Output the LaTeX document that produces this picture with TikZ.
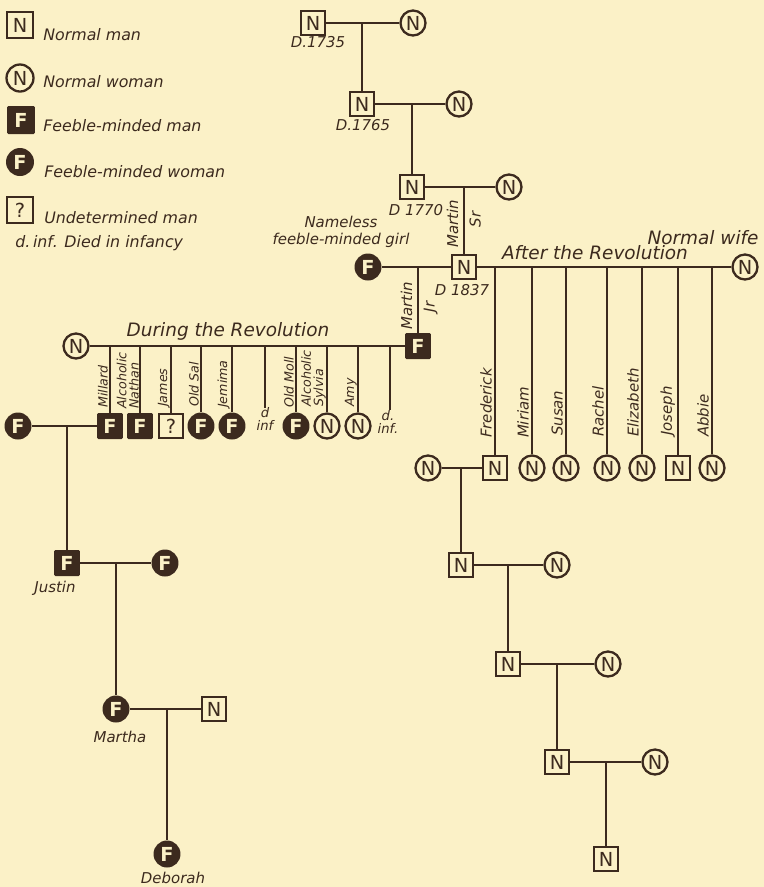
\documentclass[tikz,border=0pt]{standalone}
\usepackage{fontspec}
\setsansfont{DejaVu Sans}
\usepackage{xcolor}
\usepackage{tikz}
\usetikzlibrary{positioning,calc}
\definecolor{paper}{RGB}{251,241,199}
\definecolor{ink}{RGB}{60,42,30}
\newcommand{\symfont}{\sffamily\fontsize{11}{11}\selectfont}
\newcommand{\namefont}{\sffamily\itshape\fontsize{8.5}{8}\selectfont}

\begin{document}
\begin{tikzpicture}[x=0.02cm,y=-0.02cm,
    nman/.style={rectangle,draw=ink,line width=1.1pt,minimum size=0.48cm,inner sep=0pt,text=ink,font=\symfont},
    qman/.style={nman},
    fman/.style={rectangle,fill=ink,rounded corners=0.8pt,minimum size=0.52cm,inner sep=0pt,text=paper,font=\symfont\bfseries},
    nwoman/.style={circle,draw=ink,line width=1.3pt,minimum size=0.5cm,inner sep=0pt,text=ink,font=\symfont},
    fwoman/.style={circle,fill=ink,minimum size=0.54cm,inner sep=0pt,text=paper,font=\symfont\bfseries},
    kin/.style={draw=ink,line width=1pt},
    keytxt/.style={anchor=west,text=ink,inner sep=0pt,font=\sffamily\itshape\fontsize{9}{10}\selectfont},
    dated/.style={text=ink,inner sep=0pt,font=\sffamily\itshape\fontsize{8.5}{9}\selectfont},
    head/.style={text=ink,inner sep=0pt,font=\sffamily\itshape\fontsize{10.5}{12}\selectfont},
    namel/.style={rotate=90,anchor=south west,align=left,text=ink,inner sep=1pt,font=\namefont},
    namer/.style={rotate=90,anchor=north west,align=left,text=ink,inner sep=1pt,font=\namefont},
    namesm/.style={namel,inner sep=0.5pt,font=\sffamily\itshape\fontsize{7.2}{7}\selectfont},
    dinf/.style={align=center,text=ink,inner sep=0pt,font=\sffamily\itshape\fontsize{7.5}{7.5}\selectfont}]

  \useasboundingbox (0,0) rectangle (764,887);
  \fill[paper] (0,0) rectangle (764,887);

  % Key
  \node[nman,minimum size=0.52cm] (keynm) at (20,25) {N};
  \node[keytxt] (keynmt) at (43,35) {Normal man};
  \node[nwoman,minimum size=0.54cm] (keynw) at (20,78) {N};
  \node[keytxt] (keynwt) at (43,82) {Normal woman};
  \node[fman,minimum size=0.56cm] (keyfm) at (21,120) {F};
  \node[keytxt] (keyfmt) at (43,126) {Feeble-minded man};
  \node[fwoman,minimum size=0.56cm] (keyfw) at (20,162) {F};
  \node[keytxt] (keyfwt) at (44,172) {Feeble-minded woman};
  \node[qman,minimum size=0.52cm] (keyqm) at (20,210) {?};
  \node[keytxt] (keyqmt) at (44,218) {Undetermined man};
  \node[keytxt] (keyinf) at (15,243) {d.\,inf. Died in infancy};

  % Early generations
  \node[nman] (gen1) at (313,23) {N};
  \node[nwoman] (gen1w) at (413,23) {N};
  \node[nman] (gen2) at (362,104) {N};
  \node[nwoman] (gen2w) at (459,104) {N};
  \node[nman] (gen3) at (412,187) {N};
  \node[nwoman] (gen3w) at (509,187) {N};
  \node[dated] (d1735) at (318,42) {D.1735};
  \node[dated] (d1765) at (363,125) {D.1765};
  \node[dated] (d1770) at (416,210) {D 1770};

  \draw[kin] (gen1) -- (gen1w);
  \draw[kin] (gen2.north |- gen1) -- (gen2.north);
  \draw[kin] (gen2) -- (gen2w);
  \draw[kin] (gen3.north |- gen2) -- (gen3.north);
  \draw[kin] (gen3) -- (gen3w);

  % Martin Sr and his two unions
  \node[nman] (msr) at (464,267) {N};
  \node[dated] (d1837) at (462,290) {D 1837};
  \node[fwoman] (girl) at (368,267) {F};
  \node[nwoman] (wife) at (745,267) {N};
  \draw[kin] (msr.north |- gen3) -- (msr.north)
    node[namel] (msrl) at (461,250) {Martin}
    node[namer] (msrr) at (467,230) {Sr};
  \draw[kin] (girl) -- (msr);
  \draw[kin] (msr) -- (wife);
  \node[text=ink,inner sep=0pt,align=center,font=\sffamily\itshape\fontsize{8.5}{10}\selectfont]
    (girlt) at (341,232) {Nameless\\feeble-minded girl};
  \node[head] (wifet) at (703,238) {Normal wife};
  \node[head] (after) at (595,253) {After the Revolution};

  % Martin Jr
  \node[fman] (mjr) at (418,346) {F};
  \node[nwoman] (mjrw) at (76,346) {N};
  \draw[kin] (mjr.north |- msr) -- (mjr.north)
    node[namel] (mjrl) at (415,332) {Martin}
    node[namer] (mjrr) at (421,315) {Jr};
  \draw[kin] (mjrw) -- (mjr);
  \node[head] (during) at (228,331) {During the Revolution};

  % Children during the Revolution
  \node[fman] (millard) at (110,426) {F};
  \node[fman] (nathan) at (140,426) {F};
  \node[qman] (james) at (171,426) {?};
  \node[fwoman] (oldsal) at (201,426) {F};
  \node[fwoman] (jemima) at (232,426) {F};
  \coordinate (infa) at (265,408);
  \node[fwoman] (oldmoll) at (296,426) {F};
  \node[nwoman] (sylvia) at (327,426) {N};
  \node[nwoman] (amy) at (358,426) {N};
  \coordinate (infb) at (390,410);
  \foreach \k in {millard,nathan,james,oldsal,jemima,infa,oldmoll,sylvia,amy,infb}
    \draw[kin,line width=0.9pt] (\k.north |- mjr) -- (\k.north);
  \node[namesm] at (109,409) {Millard};
  \node[namesm] at (140,410) {Alcoholic\\Nathan};
  \node[namesm] at (171,408) {James};
  \node[namesm] at (200,408) {Old Sal};
  \node[namesm] at (231,409) {Jemima};
  \node[namesm] at (295,409) {Old Moll};
  \node[namesm] at (327,408) {Alcoholic\\Sylvia};
  \node[namesm] at (358,408) {Amy};
  \node[dinf] (infat) at (265,419) {d\\inf};
  \node[dinf] (infbt) at (388,422) {d.\\inf.};

  % Millard's line
  \node[fwoman] (millw) at (18,426) {F};
  \node[fman] (justin) at (67,563) {F};
  \node[fwoman] (justinw) at (165,563) {F};
  \node[fwoman] (martha) at (116,709) {F};
  \node[nman] (marthah) at (214,709) {N};
  \node[fwoman] (deborah) at (167,854) {F};
  \draw[kin] (millw) -- (millard);
  \draw[kin] (justin.north |- millw) -- (justin.north);
  \draw[kin] (justin) -- (justinw);
  \draw[kin] (martha.north |- justin) -- (martha.north);
  \draw[kin] (martha) -- (marthah);
  \draw[kin] (deborah.north |- martha) -- (deborah.north);
  \node[dated] (justint) at (55,588) {Justin};
  \node[dated] (marthat) at (120,737) {Martha};
  \node[dated] (deboraht) at (173,878) {Deborah};

  % Children after the Revolution
  \node[nman] (fred) at (495,468) {N};
  \node[nwoman] (miriam) at (532,468) {N};
  \node[nwoman] (susan) at (566,468) {N};
  \node[nwoman] (rachel) at (607,468) {N};
  \node[nwoman] (elizabeth) at (642,468) {N};
  \node[nman] (joseph) at (678,468) {N};
  \node[nwoman] (abbie) at (712,468) {N};
  \foreach \k in {fred,miriam,susan,rachel,elizabeth,joseph,abbie}
    \draw[kin,line width=0.9pt] (\k.north |- msr) -- (\k.north);
  \node[namel] at (494,440) {Frederick};
  \node[namel] at (531,440) {Miriam};
  \node[namel] at (565,438) {Susan};
  \node[namel] at (606,439) {Rachel};
  \node[namel] at (641,439) {Elizabeth};
  \node[namel] at (677,438) {Joseph};
  \node[namel] at (711,439) {Abbie};

  % Frederick's line
  \node[nwoman] (fredw) at (428,468) {N};
  \node[nman] (fgen1) at (461,565) {N};
  \node[nwoman] (fgen1w) at (557,565) {N};
  \node[nman] (fgen2) at (508,664) {N};
  \node[nwoman] (fgen2w) at (608,664) {N};
  \node[nman] (fgen3) at (557,762) {N};
  \node[nwoman] (fgen3w) at (655,762) {N};
  \node[nman] (fgen4) at (606,859) {N};
  \draw[kin] (fredw) -- (fred);
  \draw[kin] (fgen1.north |- fred) -- (fgen1.north);
  \draw[kin] (fgen1) -- (fgen1w);
  \draw[kin] (fgen2.north |- fgen1) -- (fgen2.north);
  \draw[kin] (fgen2) -- (fgen2w);
  \draw[kin] (fgen3.north |- fgen2) -- (fgen3.north);
  \draw[kin] (fgen3) -- (fgen3w);
  \draw[kin] (fgen4.north |- fgen3) -- (fgen4.north);
\end{tikzpicture}
\end{document}
